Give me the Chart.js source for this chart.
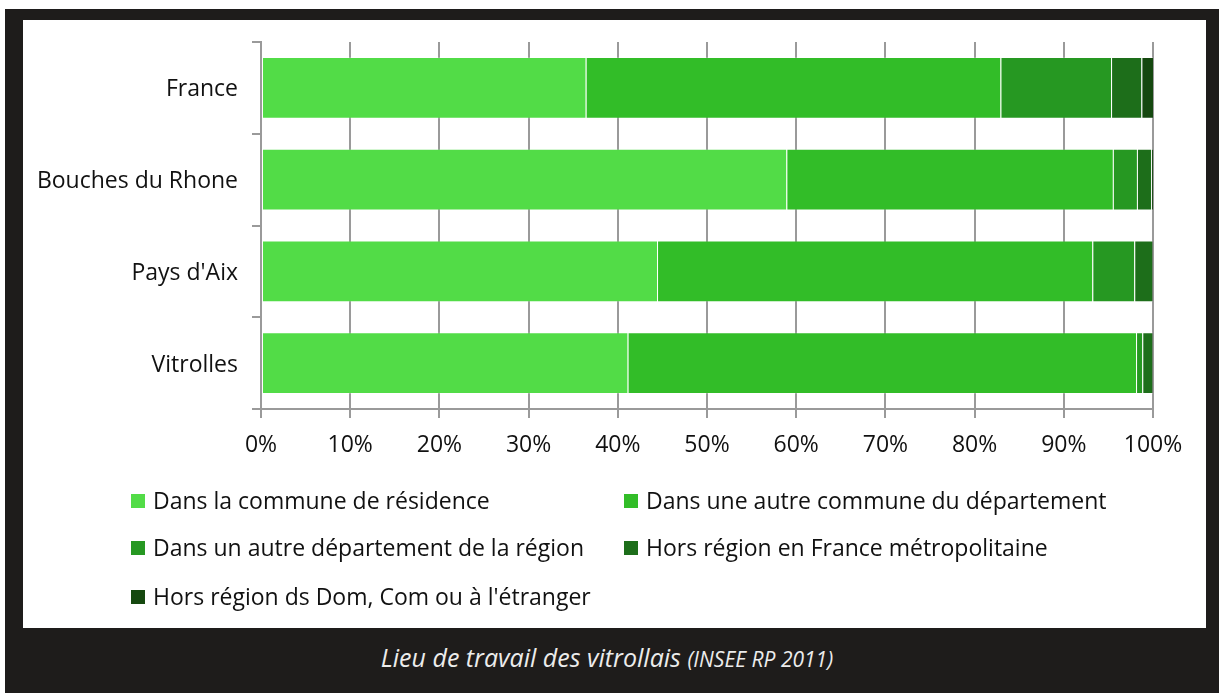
<!DOCTYPE html>
<html>
<head>
<meta charset="utf-8">
<script src="https://cdn.jsdelivr.net/npm/chart.js@4/dist/chart.umd.min.js"></script>
<style>
  html, body { margin: 0; padding: 0; background: #ffffff; width: 1219px; height: 693px; overflow: hidden; }
  #frame { position: absolute; left: 5px; top: 9px; width: 1214px; height: 684px; background: #1e1c1b; }
  #panel { position: absolute; left: 23px; top: 20px; width: 1183px; height: 608px; background: #ffffff; }
  #chartWrap { position: absolute; left: 0; top: 0; width: 1183px; height: 608px; }
  #legend { position: absolute; left: 0; top: 0; width: 1183px; height: 608px; pointer-events: none;
            font-family: "Open Sans", sans-serif; font-size: 23px; color: #111; }
  .li { position: absolute; height: 30px; line-height: 30px; white-space: nowrap; }
  .li .sw { position: absolute; left: 0; top: 8px; width: 14px; height: 14px; }
  .li .tx { position: absolute; left: 22px; top: -1px; }
  #caption { position: absolute; left: 5px; top: 628px; width: 1204px; height: 60px; line-height: 58px; text-align: center;
             font-family: "Open Sans", sans-serif; font-style: italic; color: #ececec; font-size: 25px; }
  #caption small { font-size: 21px; }
</style>
</head>
<body>
<div id="frame"></div>
<div id="panel">
  <div id="chartWrap"><canvas id="c" width="1183" height="608"></canvas></div>
  <div id="legend"></div>
</div>
<div id="caption">Lieu de travail des vitrollais <small>(INSEE RP 2011)</small></div>
<script>
// Categories (top to bottom)
const categories = ["France", "Bouches du Rhone", "Pays d'Aix", "Vitrolles"];
// Series names
const seriesNames = [
  "Dans la commune de résidence",
  "Dans une autre commune du département",
  "Dans un autre département de la région",
  "Hors région en France métropolitaine",
  "Hors région ds Dom, Com ou à l'étranger"
];
// Series values (% of workers), per category
const communeResidence   = [36.4, 58.9, 44.4, 41.1];
const autreCommuneDept   = [46.5, 36.6, 48.8, 57.0];
const autreDeptRegion    = [12.4, 2.7, 4.7, 0.7];
const horsRegionMetro    = [3.4, 1.6, 2.0, 1.1];
const horsRegionDomEtr   = [1.3, 0.2, 0.1, 0.1];
const seriesColors = ["#52dc47", "#32bd28", "#269822", "#1d6e1a", "#15480f"];
// X tick values
const xTicks = [0, 10, 20, 30, 40, 50, 60, 70, 80, 90, 100];

const seriesValues = [communeResidence, autreCommuneDept, autreDeptRegion, horsRegionMetro, horsRegionDomEtr];

const datasets = seriesNames.map((name, i) => ({
  label: name,
  data: seriesValues[i],
  backgroundColor: seriesColors[i],
  borderColor: "rgba(255,255,255,0.2)",
  borderWidth: { left: 1, right: 0, top: 1, bottom: 1 },
  borderSkipped: false,
  categoryPercentage: 1.0,
  barPercentage: 0.672
}));

const font = { family: "'Open Sans', sans-serif", size: 23 };

new Chart(document.getElementById("c"), {
  type: "bar",
  data: { labels: categories, datasets },
  options: {
    indexAxis: "y",
    responsive: false,
    animation: false,
    layout: { padding: { top: 22, right: 53, left: 0, bottom: 0 } },
    plugins: { legend: { display: false }, tooltip: { enabled: false } },
    scales: {
      x: {
        stacked: true,
        min: 0, max: 100,
        afterBuildTicks: (s) => { s.ticks = xTicks.map(v => ({ value: v })); },
        afterFit: (s) => { s.height = 219; },
        ticks: { font, color: "#111", padding: 14, callback: (v) => v + "%" },
        grid: { color: "#9a9a9a", lineWidth: 2, tickLength: 9, drawOnChartArea: true },
        border: { display: true, color: "#9a9a9a", width: 2 }
      },
      y: {
        stacked: true,
        afterFit: (s) => { s.width = 238; s.paddingTop = 0; s.paddingBottom = 0; },
        ticks: { font, color: "#111", padding: 14, labelOffset: 2 },
        grid: { color: "#9a9a9a", lineWidth: 2, tickLength: 9, drawOnChartArea: false, offset: true },
        border: { display: true, color: "#9a9a9a", width: 2 }
      }
    }
  }
});

// Legend (two columns, built from series arrays)
const legendPos = [[108, 466], [601, 466], [108, 513], [601, 513], [108, 562]];
const lg = document.getElementById("legend");
seriesNames.forEach((name, i) => {
  const d = document.createElement("div");
  d.className = "li";
  d.style.left = legendPos[i][0] + "px";
  d.style.top = legendPos[i][1] + "px";
  d.innerHTML = '<span class="sw" style="background:' + seriesColors[i] + '"></span><span class="tx"></span>';
  d.querySelector(".tx").textContent = name;
  lg.appendChild(d);
});
</script>
</body>
</html>
